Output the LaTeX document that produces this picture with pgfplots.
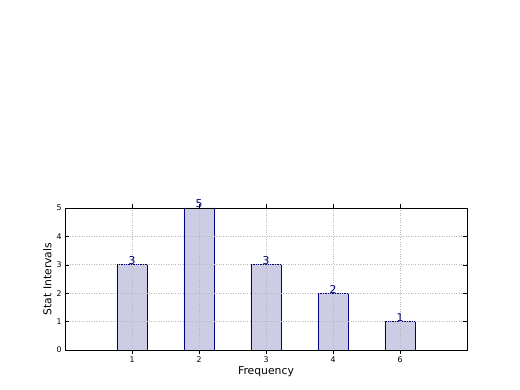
\documentclass[border=0pt]{standalone}
\usepackage{pgfplots}
\pgfplotsset{compat=1.18}
\usepackage{fontspec}
\setmainfont{DejaVu Sans}
\definecolor{barfill}{RGB}{204,204,228}
\definecolor{navyc}{RGB}{0,0,128}
\begin{document}
\begin{tikzpicture}[x=1pt,y=1pt]
\path[use as bounding box, fill=white] (0,0) rectangle (520,390);
\begin{axis}[
  at={(65pt,40pt)}, anchor=south west,
  scale only axis, width=402pt, height=142pt,
  xmin=-1, xmax=5, ymin=0, ymax=5,
  xtick={0,1,2,3,4}, xticklabels={1,2,3,4,6},
  ytick={0,1,2,3,4,5},
  tick align=inside, major tick length=3.6pt,
  tick style={black, line width=0.5pt},
  ticklabel style={font=\fontsize{7.8}{9}\selectfont},
  /pgf/number format/assume math mode=true,
  grid=major,
  major grid style={gray!55, dotted, line width=0.7pt},
  axis on top,
  axis line style={black, line width=0.8pt},
  xlabel={Frequency}, ylabel={Stat Intervals},
  label style={font=\fontsize{10.8}{12}\selectfont},
  xlabel style={yshift=3pt},
  ylabel style={yshift=-2pt},
  ybar, bar width=0.45,
  nodes near coords,
  every node near coord/.append style={font=\fontsize{10.8}{12}\selectfont, text=navyc, anchor=south, inner sep=0pt, yshift=-0.5pt},
]
\addplot[fill=barfill, draw=navyc, line width=0.7pt] coordinates {(0,3) (1,5) (2,3) (3,2) (4,1)};
\end{axis}
\end{tikzpicture}
\end{document}
